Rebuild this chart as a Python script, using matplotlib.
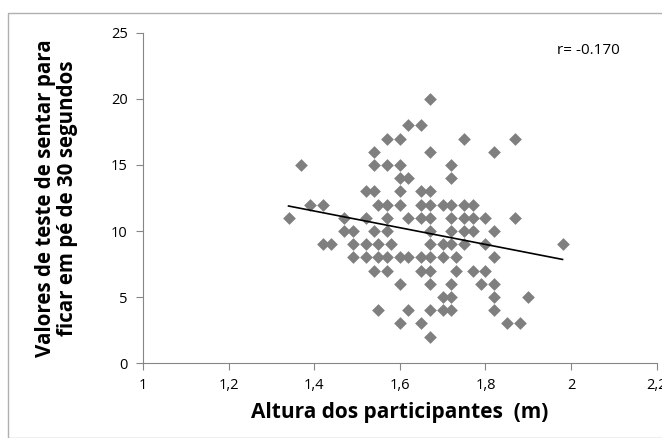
import matplotlib
matplotlib.use("Agg")
import matplotlib.pyplot as plt
from matplotlib.patches import Rectangle
from matplotlib.ticker import FuncFormatter
import numpy as np

# scores per row (y value) and the heights (m) read for each row
score_rows = [20, 18, 17, 16, 15, 14, 13, 12, 11, 10, 9, 8, 7, 6, 5, 4, 3, 2]
height_rows = [
    [1.67],
    [1.62, 1.65],
    [1.57, 1.60, 1.75, 1.87],
    [1.54, 1.67, 1.82],
    [1.37, 1.54, 1.57, 1.60, 1.72],
    [1.60, 1.62, 1.72],
    [1.52, 1.54, 1.60, 1.65, 1.67],
    [1.39, 1.42, 1.55, 1.57, 1.60, 1.65, 1.67, 1.70, 1.72, 1.75, 1.77],
    [1.34, 1.47, 1.52, 1.57, 1.62, 1.65, 1.67, 1.72, 1.75, 1.77, 1.80, 1.87],
    [1.47, 1.49, 1.54, 1.57, 1.67, 1.72, 1.75, 1.77, 1.82],
    [1.42, 1.44, 1.49, 1.52, 1.55, 1.58, 1.67, 1.70, 1.72, 1.75, 1.80, 1.98],
    [1.49, 1.52, 1.55, 1.57, 1.60, 1.62, 1.65, 1.67, 1.70, 1.73, 1.82],
    [1.54, 1.57, 1.65, 1.67, 1.73, 1.77, 1.80],
    [1.60, 1.67, 1.72, 1.79, 1.82],
    [1.70, 1.72, 1.82, 1.90],
    [1.55, 1.62, 1.67, 1.70, 1.72, 1.82],
    [1.60, 1.65, 1.85, 1.88],
    [1.67],
]
r_label = "r= -0.170"
x_ticks = [1, 1.2, 1.4, 1.6, 1.8, 2, 2.2]
y_ticks = [0, 5, 10, 15, 20, 25]

heights = np.concatenate([np.array(h) for h in height_rows])
scores = np.concatenate([[s] * len(h) for s, h in zip(score_rows, height_rows)])

plt.rcParams["font.family"] = ["Open Sans", "DejaVu Sans"]

fig = plt.figure(figsize=(6.62, 4.38), dpi=100)
fig.patches.append(Rectangle((0.012, 0.0), 0.99, 0.97, transform=fig.transFigure,
                             fill=False, edgecolor="#b0b0b0", linewidth=1.0))
ax = fig.add_axes([0.216, 0.171, 0.776, 0.754])

ax.scatter(heights, scores, marker="D", s=42, color="#7f7f7f", linewidths=0, zorder=3)

# linear trend line over the data range
k, b = np.polyfit(heights, scores, 1)
xs = np.array([heights.min(), heights.max()])
ax.plot(xs, k * xs + b, color="black", linewidth=1.2, zorder=4)

ax.text(2.04, 23.7, r_label, fontsize=11, ha="center", va="center")

ax.set_xlim(1, 2.2)
ax.set_ylim(0, 25)
ax.set_xticks(x_ticks)
ax.set_yticks(y_ticks)
ax.xaxis.set_major_formatter(FuncFormatter(lambda v, p: f"{v:g}".replace(".", ",")))
for s in ["top", "right"]:
    ax.spines[s].set_visible(False)
for s in ["left", "bottom"]:
    ax.spines[s].set_color("#868686")
ax.tick_params(direction="out", length=5, color="#868686", labelsize=10.5, pad=6)

ax.set_xlabel("Altura dos participantes  (m)", fontsize=15, fontweight="bold", labelpad=6)
ax.set_ylabel("Valores de teste de sentar para\nficar em pé de 30 segundos",
              fontsize=14.8, fontweight="bold", labelpad=24, linespacing=1.05)

fig.savefig("out.png", dpi=100)
